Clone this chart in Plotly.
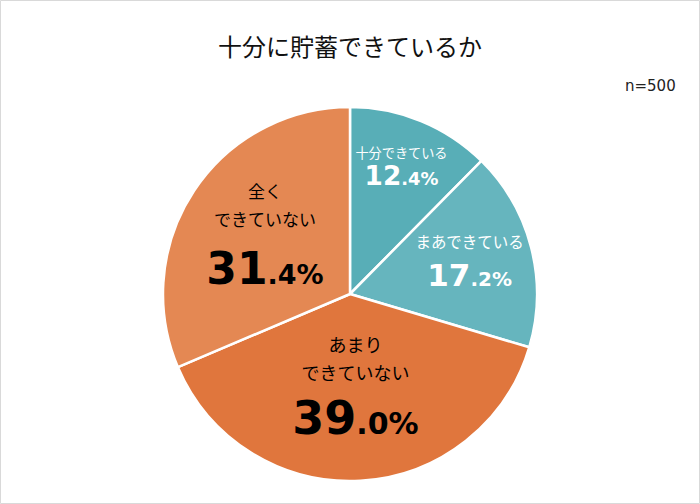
import plotly.graph_objects as go

categories = ["十分できている", "まあできている", "あまり<br>できていない", "全く<br>できていない"]
values = [12.4, 17.2, 39.0, 31.4]
int_parts = ["12", "17", "39", "31"]
dec_parts = [".4%", ".2%", ".0%", ".4%"]
colors = ["#58aeb7", "#66b5be", "#e0763d", "#e48853"]
text_colors = ["white", "white", "black", "black"]
big_sizes = [28, 31, 46, 44]
small_sizes = [19, 20, 30, 27]
label_sizes = [14, 15.5, 18, 17]
base_sizes = [22, 29, 21, 22]
gap = ["", "", "<br>", "<br>"]

texts = []
for c, ip, dp, bs, ss, ls, g in zip(categories, int_parts, dec_parts, big_sizes, small_sizes, label_sizes, gap):
    lab = "<br>".join(f"<span style='font-size:{ls}px'>{p}</span>" for p in c.split("<br>"))
    texts.append(
        f"{lab}<br>{g}"
        f"<b><span style='font-size:{bs}px'>{ip}</span><span style='font-size:{ss}px'>{dp}</span></b>"
    )

fig = go.Figure(go.Pie(
    values=values,
    labels=categories,
    text=texts,
    textinfo="text",
    textposition="inside",
    insidetextorientation="horizontal",
    sort=False,
    direction="clockwise",
    rotation=0,
    marker=dict(colors=colors, line=dict(color="white", width=2.5)),
    insidetextfont=dict(color=text_colors, family="DejaVu Sans, Noto Sans CJK JP", size=base_sizes),
    hoverinfo="label+percent",
    showlegend=False,
))

fig.update_layout(
    width=700, height=504,
    margin=dict(l=163, r=163, t=107, b=23),
    paper_bgcolor="white",
    font=dict(family="Noto Sans CJK JP, DejaVu Sans, sans-serif", color="#222"),
    title=dict(text="十分に貯蓄できているか", x=0.5, xanchor="center", y=0.905, yanchor="middle",
               font=dict(size=24, color="#111", family="Noto Sans CJK JP")),
    uniformtext=dict(mode=False),
    annotations=[dict(text="n=500", xref="paper", yref="paper", x=1.377, y=1.055,
                      xanchor="right", yanchor="middle", showarrow=False,
                      font=dict(size=15, color="#222", family="DejaVu Sans"))],
    shapes=[dict(type="rect", xref="paper", yref="paper",
                 x0=-163/374 + 0.5/374, x1=1 + 163/374 - 0.5/374,
                 y0=-23/374 + 0.5/374, y1=1 + 107/374 - 0.5/374,
                 line=dict(color="#d9d9d9", width=1))],
)

fig.write_html("out.html", post_script="document.body.style.margin='0';",
               config={"displayModeBar": False})
